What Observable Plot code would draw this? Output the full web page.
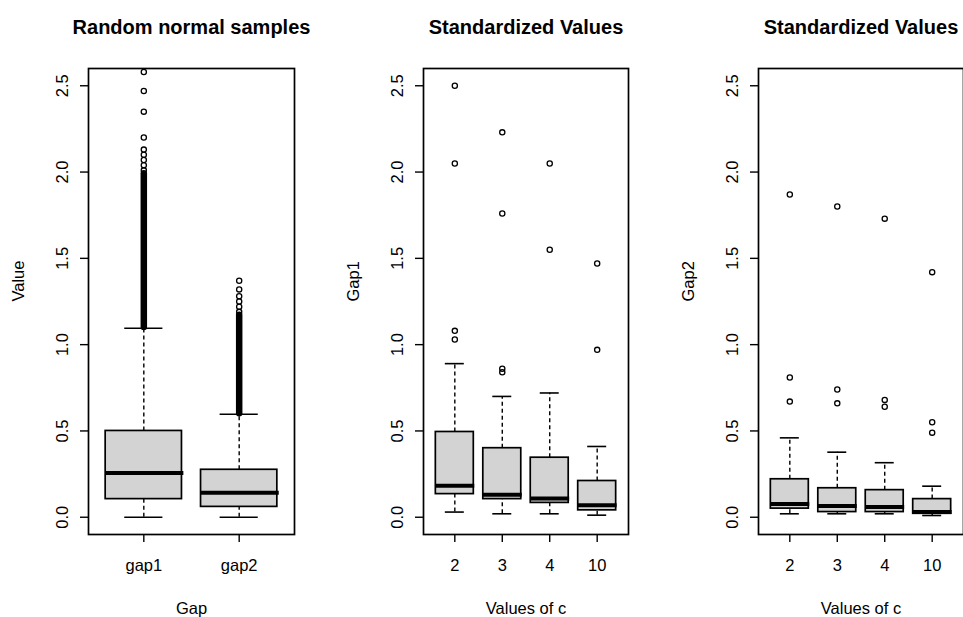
<!DOCTYPE html>
<html><head><meta charset="utf-8">
<script src="https://cdn.jsdelivr.net/npm/d3@7"></script>
<script src="https://cdn.jsdelivr.net/npm/@observablehq/plot@0.6"></script>
<style>
body{margin:0;background:#fff;overflow:hidden}
#wrap{position:relative;width:963px;height:617px;overflow:hidden;background:#fff}
#wrap svg{position:absolute;top:0}
</style></head><body><div id="wrap"></div>
<script>
// ---- Panel 1: Random normal samples ----
const p1Groups = ["gap1", "gap2"];
const p1Low = [0.0, 0.0];
const p1Q1 = [0.105, 0.06];
const p1Median = [0.257, 0.142];
const p1Q3 = [0.50, 0.275];
const p1High = [1.095, 0.597];
const p1Outliers = [
  [2.58, 2.47, 2.35, 2.20, 2.13, 2.10, 2.07, 2.04, 2.01],
  [1.37, 1.32, 1.28, 1.25, 1.22, 1.19]
];
const p1DenseLow = [1.10, 0.60];
const p1DenseHigh = [1.99, 1.17];

// ---- Panels 2 & 3: Standardized Values by c ----
const cValues = ["2", "3", "4", "10"];
const p2Low = [0.03, 0.02, 0.02, 0.012];
const p2Q1 = [0.134, 0.105, 0.083, 0.04];
const p2Median = [0.182, 0.13, 0.108, 0.07];
const p2Q3 = [0.494, 0.40, 0.345, 0.21];
const p2High = [0.89, 0.70, 0.72, 0.41];
const p2Outliers = [[1.03, 1.08, 2.05, 2.50], [0.84, 0.86, 1.76, 2.23], [1.55, 2.05], [0.97, 1.47]];

const p3Low = [0.02, 0.02, 0.02, 0.01];
const p3Q1 = [0.05, 0.03, 0.03, 0.02];
const p3Median = [0.076, 0.065, 0.06, 0.03];
const p3Q3 = [0.22, 0.168, 0.157, 0.105];
const p3High = [0.46, 0.377, 0.316, 0.18];
const p3Outliers = [[0.67, 0.81, 1.87], [0.66, 0.74, 1.80], [0.64, 0.68, 1.73], [0.49, 0.55, 1.42]];

const yTicks = [0, 0.5, 1.0, 1.5, 2.0, 2.5];
const yDomain = [-0.1, 2.6];

const FONT = "'Liberation Sans', Arial, sans-serif";

function panel(cfg) {
  const n = cfg.groups.length;
  const rows = cfg.groups.map((g, i) => ({
    pos: i + 1, g,
    low: cfg.low[i], q1: cfg.q1[i], med: cfg.med[i], q3: cfg.q3[i], high: cfg.high[i]
  }));
  const outs = [];
  cfg.outliers.forEach((arr, i) => arr.forEach(v => outs.push({pos: i + 1, v})));
  const dense = (cfg.denseLow || []).map((lo, i) => ({pos: i + 1, lo, hi: cfg.denseHigh[i]}));
  const pos = rows.map(d => d.pos);
  const chart = Plot.plot({
    width: 321,
    height: 617,
    marginLeft: cfg.mL,
    marginRight: cfg.mR,
    marginTop: 68,
    marginBottom: 83,
    style: {fontFamily: FONT, fontSize: "16.5px", color: "black", background: "white", overflow: "visible"},
    x: {domain: [0.5 - 0.04 * n, n + 0.5 + 0.04 * n], axis: null},
    y: {domain: yDomain, axis: null},
    marks: [
      Plot.ruleX(rows, {x: "pos", y1: "q3", y2: "high", stroke: "black", strokeWidth: 1.4, strokeDasharray: "4,3"}),
      Plot.ruleX(rows, {x: "pos", y1: "low", y2: "q1", stroke: "black", strokeWidth: 1.4, strokeDasharray: "4,3"}),
      Plot.ruleY(rows, {y: "high", x1: d => d.pos - 0.2, x2: d => d.pos + 0.2, stroke: "black", strokeWidth: 1.6}),
      Plot.ruleY(rows, {y: "low", x1: d => d.pos - 0.2, x2: d => d.pos + 0.2, stroke: "black", strokeWidth: 1.6}),
      Plot.rect(rows, {x1: d => d.pos - 0.4, x2: d => d.pos + 0.4, y1: "q1", y2: "q3", fill: "#d3d3d3", stroke: "black", strokeWidth: 1.7}),
      Plot.ruleY(rows, {y: "med", x1: d => d.pos - 0.4, x2: d => d.pos + 0.42, stroke: "black", strokeWidth: 4}),
      Plot.ruleX(dense, {x: "pos", y1: "lo", y2: "hi", stroke: "black", strokeWidth: 6.5, strokeLinecap: "round"}),
      Plot.dot(outs, {x: "pos", y: "v", r: 2.6, stroke: "black", strokeWidth: 1.3, clip: true}),
      Plot.frame({stroke: "black", strokeWidth: 1.7}),
      Plot.axisY({ticks: yTicks, tickFormat: d3.format(".1f"), tickSize: 8, tickPadding: 13, tickRotate: -90,
        textAnchor: "middle", lineAnchor: "bottom", label: null, strokeWidth: 1.4, fontSize: 16.5}),
      Plot.axisX({ticks: pos, tickFormat: i => cfg.groups[i - 1], tickSize: 8, tickPadding: 17, label: null,
        strokeWidth: 1.4, fontSize: 16.5}),
      Plot.text([cfg.title], {frameAnchor: "top", dy: -41, lineAnchor: "middle", fontWeight: "bold", fontSize: 20}),
      Plot.text([cfg.xLabel], {frameAnchor: "bottom", dy: 74, lineAnchor: "middle", fontSize: 16.5}),
      Plot.text([cfg.yLabel], {frameAnchor: "left", dx: -70, rotate: -90, lineAnchor: "middle", fontSize: 16.5})
    ]
  });
  chart.style.left = cfg.left + "px";
  document.getElementById("wrap").appendChild(chart);
}

panel({groups: p1Groups, low: p1Low, q1: p1Q1, med: p1Median, q3: p1Q3, high: p1High,
  outliers: p1Outliers, denseLow: p1DenseLow, denseHigh: p1DenseHigh,
  title: "Random normal samples", xLabel: "Gap", yLabel: "Value", left: 0, mL: 88, mR: 27});
panel({groups: cValues, low: p2Low, q1: p2Q1, med: p2Median, q3: p2Q3, high: p2High,
  outliers: p2Outliers, title: "Standardized Values", xLabel: "Values of c", yLabel: "Gap1",
  left: 321, mL: 102, mR: 14});
panel({groups: cValues, low: p3Low, q1: p3Q1, med: p3Median, q3: p3Q3, high: p3High,
  outliers: p3Outliers, title: "Standardized Values", xLabel: "Values of c", yLabel: "Gap2",
  left: 642, mL: 116, mR: 0});
</script></body></html>
